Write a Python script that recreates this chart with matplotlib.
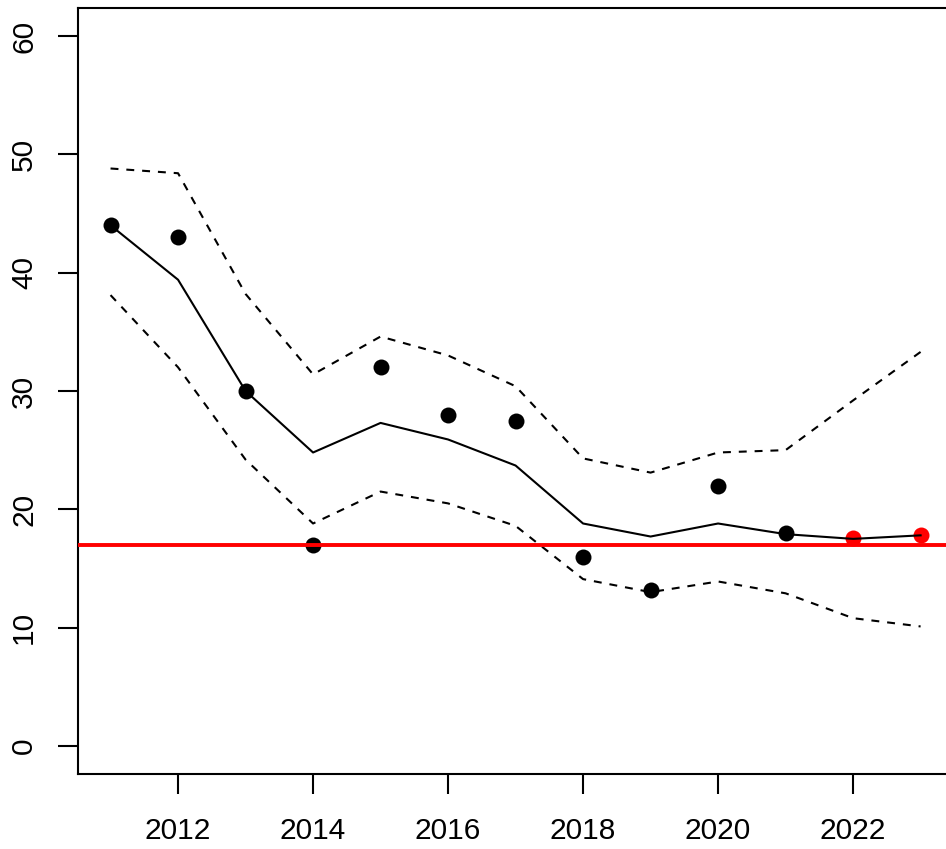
import matplotlib
matplotlib.use("Agg")
import matplotlib.pyplot as plt

plt.rcParams['font.family'] = ['Liberation Sans', 'DejaVu Sans']

years = [2011, 2012, 2013, 2014, 2015, 2016, 2017, 2018, 2019, 2020, 2021, 2022, 2023]
observed = [44, 43, 30, 17, 32, 28, 27.5, 16, 13.2, 22, 18]
observed_years = years[:11]
predicted_years = [2022, 2023]
predicted = [17.6, 17.8]
fit = [44, 39.4, 30, 24.8, 27.3, 25.9, 23.7, 18.8, 17.7, 18.8, 17.9, 17.5, 17.8]
upper = [48.8, 48.4, 38.2, 31.4, 34.6, 33.0, 30.4, 24.3, 23.1, 24.8, 25.0, 29.2, 33.3]
lower = [38.1, 32.0, 24.2, 18.8, 21.5, 20.5, 18.6, 14.1, 13.0, 13.9, 12.9, 10.8, 10.1]
target = 17

fig = plt.figure(figsize=(9.46, 8.49), dpi=100)
ax = fig.add_axes([0.0826, 0.0879, 0.9248, 0.9032])

ax.plot(years, upper, color='black', lw=1.5, dashes=(3.8, 3.8), zorder=2)
ax.plot(years, lower, color='black', lw=1.5, dashes=(3.8, 3.8), zorder=2)
ax.plot(predicted_years, predicted, 'o', color='red', ms=11.5, mew=0, zorder=2.5)
ax.plot(years, fit, color='black', lw=1.5, zorder=3)
ax.plot(observed_years, observed, 'o', color='black', ms=11.5, mew=0, zorder=4)
ax.axhline(target, color='red', lw=2.8, zorder=5)

ax.set_xlim(2010.52, 2023.48)
ax.set_ylim(-2.4, 62.4)
ax.set_xticks(range(2012, 2023, 2))
ax.set_yticks(range(0, 61, 10))
for lbl in ax.get_yticklabels():
    lbl.set_rotation(90)
    lbl.set_va('center')
ax.tick_params(axis='both', labelsize=21.5, length=14.4, width=1.5)
ax.tick_params(axis='x', pad=16)
ax.tick_params(axis='y', pad=14.5)
for s in ax.spines.values():
    s.set_linewidth(1.5)

fig.savefig('out.png', dpi=100)
